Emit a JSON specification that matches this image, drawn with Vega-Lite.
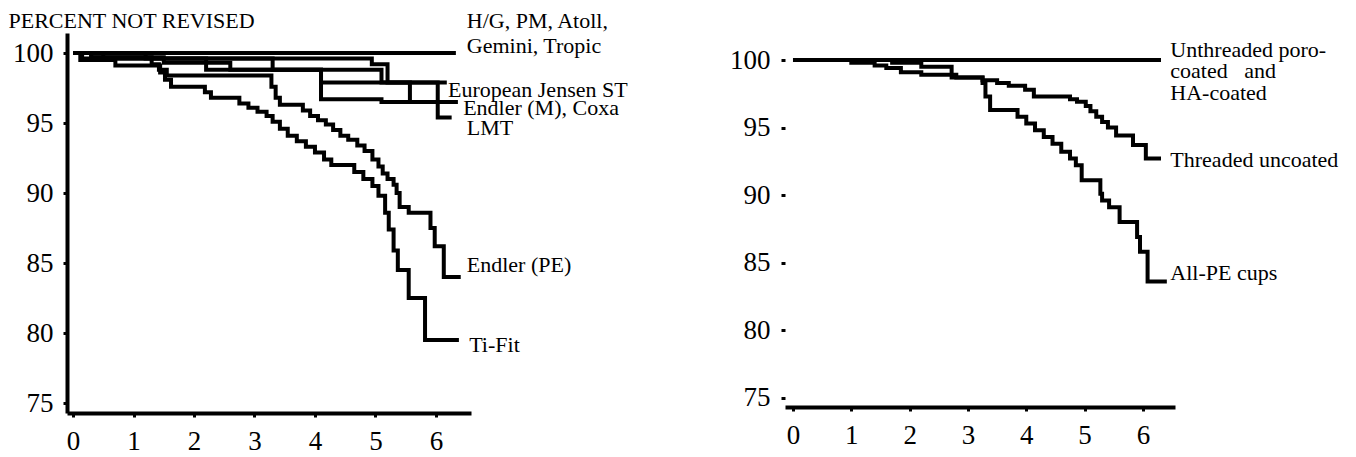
{
  "$schema": "https://vega.github.io/schema/vega-lite/v6.json",
  "autosize": {"type": "pad"},
  "padding": {"left": 8, "top": 9, "right": 0, "bottom": 0},
  "background": "white",
  "bounds": "flush",
  "spacing": 314,
  "config": {
    "view": {"stroke": null},
    "font": "Times New Roman, Liberation Serif, serif",
    "axis": {
      "domainColor": "black",
      "domainWidth": 4,
      "tickColor": "black",
      "tickSize": 4,
      "tickWidth": 3,
      "grid": false,
      "format": "d",
      "labelFont": "Times New Roman, Liberation Serif, serif",
      "labelFontSize": 27,
      "labelColor": "black",
      "titleFont": "Times New Roman, Liberation Serif, serif",
      "titleColor": "black",
      "titleFontWeight": "normal"
    }
  },
  "datasets": {
    "left": [
      {"s": "HG", "t": 0, "v": 100}, {"s": "HG", "t": 6.33, "v": 100},
      {"s": "EJ", "t": 0, "v": 100}, {"s": "EJ", "t": 0.5, "v": 99.6}, {"s": "EJ", "t": 2.2, "v": 98.8}, {"s": "EJ", "t": 4.1, "v": 97.9}, {"s": "EJ", "t": 6.18, "v": 97.9},
      {"s": "Coxa", "t": 0, "v": 100}, {"s": "Coxa", "t": 0.3, "v": 99.7}, {"s": "Coxa", "t": 1.5, "v": 99.3}, {"s": "Coxa", "t": 2.6, "v": 98.8}, {"s": "Coxa", "t": 4.1, "v": 96.7}, {"s": "Coxa", "t": 5.1, "v": 96.5}, {"s": "Coxa", "t": 6.36, "v": 96.5},
      {"s": "EndlerM", "t": 0, "v": 100}, {"s": "EndlerM", "t": 1.2, "v": 99.6}, {"s": "EndlerM", "t": 3.3, "v": 98.8}, {"s": "EndlerM", "t": 5.1, "v": 97.9}, {"s": "EndlerM", "t": 5.57, "v": 96.5}, {"s": "EndlerM", "t": 6.36, "v": 96.5},
      {"s": "LMT", "t": 0, "v": 100}, {"s": "LMT", "t": 0.15, "v": 99.6}, {"s": "LMT", "t": 4.94, "v": 99.2}, {"s": "LMT", "t": 5.2, "v": 97.9}, {"s": "LMT", "t": 6.03, "v": 95.4}, {"s": "LMT", "t": 6.26, "v": 95.4},
      {"s": "EndlerPE", "t": 0, "v": 100}, {"s": "EndlerPE", "t": 0.3, "v": 99.7}, {"s": "EndlerPE", "t": 1.3, "v": 99.2}, {"s": "EndlerPE", "t": 1.42, "v": 98.8}, {"s": "EndlerPE", "t": 1.55, "v": 98.4}, {"s": "EndlerPE", "t": 3.28, "v": 97.6}, {"s": "EndlerPE", "t": 3.35, "v": 96.8}, {"s": "EndlerPE", "t": 3.42, "v": 96.3}, {"s": "EndlerPE", "t": 3.8, "v": 95.9}, {"s": "EndlerPE", "t": 3.92, "v": 95.5}, {"s": "EndlerPE", "t": 4.05, "v": 95.2}, {"s": "EndlerPE", "t": 4.18, "v": 94.9}, {"s": "EndlerPE", "t": 4.3, "v": 94.5}, {"s": "EndlerPE", "t": 4.42, "v": 94.1}, {"s": "EndlerPE", "t": 4.55, "v": 93.8}, {"s": "EndlerPE", "t": 4.7, "v": 93.4}, {"s": "EndlerPE", "t": 4.82, "v": 93.0}, {"s": "EndlerPE", "t": 4.95, "v": 92.4}, {"s": "EndlerPE", "t": 5.05, "v": 91.9}, {"s": "EndlerPE", "t": 5.12, "v": 91.4}, {"s": "EndlerPE", "t": 5.2, "v": 91.0}, {"s": "EndlerPE", "t": 5.3, "v": 90.6}, {"s": "EndlerPE", "t": 5.35, "v": 90.0}, {"s": "EndlerPE", "t": 5.4, "v": 89.0}, {"s": "EndlerPE", "t": 5.55, "v": 88.6}, {"s": "EndlerPE", "t": 5.91, "v": 87.5}, {"s": "EndlerPE", "t": 5.98, "v": 86.2}, {"s": "EndlerPE", "t": 6.13, "v": 84.0}, {"s": "EndlerPE", "t": 6.41, "v": 84.0},
      {"s": "TiFit", "t": 0, "v": 100}, {"s": "TiFit", "t": 0.12, "v": 99.5}, {"s": "TiFit", "t": 0.7, "v": 99.1}, {"s": "TiFit", "t": 1.44, "v": 98.6}, {"s": "TiFit", "t": 1.52, "v": 98.1}, {"s": "TiFit", "t": 1.62, "v": 97.6}, {"s": "TiFit", "t": 2.18, "v": 97.2}, {"s": "TiFit", "t": 2.28, "v": 96.8}, {"s": "TiFit", "t": 2.75, "v": 96.4}, {"s": "TiFit", "t": 2.9, "v": 96.1}, {"s": "TiFit", "t": 3.05, "v": 95.8}, {"s": "TiFit", "t": 3.2, "v": 95.5}, {"s": "TiFit", "t": 3.3, "v": 95.1}, {"s": "TiFit", "t": 3.42, "v": 94.6}, {"s": "TiFit", "t": 3.55, "v": 94.1}, {"s": "TiFit", "t": 3.7, "v": 93.7}, {"s": "TiFit", "t": 3.85, "v": 93.3}, {"s": "TiFit", "t": 4.0, "v": 92.9}, {"s": "TiFit", "t": 4.15, "v": 92.4}, {"s": "TiFit", "t": 4.27, "v": 92.0}, {"s": "TiFit", "t": 4.65, "v": 91.5}, {"s": "TiFit", "t": 4.8, "v": 91.0}, {"s": "TiFit", "t": 4.95, "v": 90.5}, {"s": "TiFit", "t": 5.05, "v": 89.8}, {"s": "TiFit", "t": 5.16, "v": 88.6}, {"s": "TiFit", "t": 5.22, "v": 87.4}, {"s": "TiFit", "t": 5.3, "v": 85.9}, {"s": "TiFit", "t": 5.37, "v": 84.5}, {"s": "TiFit", "t": 5.55, "v": 82.5}, {"s": "TiFit", "t": 5.82, "v": 79.5}, {"s": "TiFit", "t": 6.38, "v": 79.5}
    ],
    "leftLabels": [
      {"label": "H/G, PM, Atoll,", "t": 6.51, "v": 101.79},
      {"label": "Gemini, Tropic", "t": 6.51, "v": 100.0},
      {"label": "European Jensen ST", "t": 6.2, "v": 96.86},
      {"label": "Endler (M), Coxa", "t": 6.45, "v": 95.57},
      {"label": "LMT", "t": 6.51, "v": 94.14},
      {"label": "Endler (PE)", "t": 6.51, "v": 84.36},
      {"label": "Ti-Fit", "t": 6.55, "v": 78.64}
    ],
    "right": [
      {"s": "Unthreaded", "t": 0, "v": 100}, {"s": "Unthreaded", "t": 6.31, "v": 100},
      {"s": "Threaded", "t": 0, "v": 100}, {"s": "Threaded", "t": 1.0, "v": 99.8}, {"s": "Threaded", "t": 1.4, "v": 99.6}, {"s": "Threaded", "t": 1.6, "v": 99.4}, {"s": "Threaded", "t": 1.85, "v": 99.1}, {"s": "Threaded", "t": 2.2, "v": 98.9}, {"s": "Threaded", "t": 2.8, "v": 98.7}, {"s": "Threaded", "t": 3.25, "v": 98.5}, {"s": "Threaded", "t": 3.5, "v": 98.3}, {"s": "Threaded", "t": 3.7, "v": 98.1}, {"s": "Threaded", "t": 3.98, "v": 97.8}, {"s": "Threaded", "t": 4.13, "v": 97.3}, {"s": "Threaded", "t": 4.75, "v": 97.1}, {"s": "Threaded", "t": 4.87, "v": 96.9}, {"s": "Threaded", "t": 5.02, "v": 96.6}, {"s": "Threaded", "t": 5.1, "v": 96.2}, {"s": "Threaded", "t": 5.2, "v": 95.8}, {"s": "Threaded", "t": 5.3, "v": 95.4}, {"s": "Threaded", "t": 5.4, "v": 95.0}, {"s": "Threaded", "t": 5.54, "v": 94.4}, {"s": "Threaded", "t": 5.83, "v": 93.7}, {"s": "Threaded", "t": 6.05, "v": 92.7}, {"s": "Threaded", "t": 6.31, "v": 92.7},
      {"s": "AllPE", "t": 0, "v": 100}, {"s": "AllPE", "t": 1.7, "v": 99.8}, {"s": "AllPE", "t": 2.2, "v": 99.5}, {"s": "AllPE", "t": 2.72, "v": 98.7}, {"s": "AllPE", "t": 3.25, "v": 98.3}, {"s": "AllPE", "t": 3.3, "v": 97.3}, {"s": "AllPE", "t": 3.38, "v": 96.3}, {"s": "AllPE", "t": 3.85, "v": 95.8}, {"s": "AllPE", "t": 4.0, "v": 95.3}, {"s": "AllPE", "t": 4.15, "v": 94.8}, {"s": "AllPE", "t": 4.3, "v": 94.3}, {"s": "AllPE", "t": 4.45, "v": 93.8}, {"s": "AllPE", "t": 4.6, "v": 93.2}, {"s": "AllPE", "t": 4.75, "v": 92.7}, {"s": "AllPE", "t": 4.85, "v": 92.2}, {"s": "AllPE", "t": 4.95, "v": 91.1}, {"s": "AllPE", "t": 5.27, "v": 90.1}, {"s": "AllPE", "t": 5.3, "v": 89.6}, {"s": "AllPE", "t": 5.42, "v": 89.1}, {"s": "AllPE", "t": 5.6, "v": 88.0}, {"s": "AllPE", "t": 5.9, "v": 86.9}, {"s": "AllPE", "t": 5.95, "v": 85.8}, {"s": "AllPE", "t": 6.08, "v": 83.6}, {"s": "AllPE", "t": 6.41, "v": 83.6}
    ],
    "rightLabels": [
      {"label": "Unthreaded poro-", "t": 6.47, "v": 100.22},
      {"label": "coated\u00a0\u00a0 and", "t": 6.47, "v": 98.64},
      {"label": "HA-coated", "t": 6.47, "v": 97.04},
      {"label": "Threaded uncoated", "t": 6.47, "v": 92.1},
      {"label": "All-PE cups", "t": 6.47, "v": 83.7}
    ]
  },
  "hconcat": [
    {
      "width": 404,
      "height": 380,
      "layer": [
        {
          "data": {"name": "left"},
          "mark": {"type": "line", "interpolate": "step-after", "strokeWidth": 4, "color": "black"},
          "encoding": {
            "x": {"field": "t", "type": "quantitative",
                  "scale": {"domain": [-0.1, 6.58], "nice": false, "zero": false},
                  "axis": {"values": [0, 1, 2, 3, 4, 5, 6], "title": null, "labelPadding": 11}},
            "y": {"field": "v", "type": "quantitative",
                  "scale": {"domain": [74.29, 101.43], "nice": false, "zero": false},
                  "axis": {"values": [75, 80, 85, 90, 95, 100], "labelPadding": 10,
                           "title": "PERCENT NOT REVISED", "titleAngle": 0, "titleAlign": "left",
                           "titleBaseline": "alphabetic", "titleX": -59, "titleY": -6, "titleFontSize": 22}},
            "detail": {"field": "s"}
          }
        },
        {
          "data": {"name": "leftLabels"},
          "mark": {"type": "text", "align": "left", "baseline": "alphabetic", "fontSize": 22, "font": "Times New Roman, Liberation Serif, serif", "color": "black"},
          "encoding": {
            "x": {"field": "t", "type": "quantitative"},
            "y": {"field": "v", "type": "quantitative"},
            "text": {"field": "label"}
          }
        }
      ]
    },
    {
      "width": 390,
      "height": 374,
      "layer": [
        {
          "data": {"name": "right"},
          "mark": {"type": "line", "interpolate": "step-after", "strokeWidth": 4, "color": "black"},
          "encoding": {
            "x": {"field": "t", "type": "quantitative",
                  "scale": {"domain": [-0.137, 6.55], "nice": false, "zero": false},
                  "axis": {"values": [0, 1, 2, 3, 4, 5, 6], "title": null, "labelPadding": 11}},
            "y": {"field": "v", "type": "quantitative",
                  "scale": {"domain": [74.3, 102.0], "nice": false, "zero": false},
                  "axis": {"values": [75, 80, 85, 90, 95, 100], "labelPadding": 11, "title": null, "domain": false}},
            "detail": {"field": "s"}
          }
        },
        {
          "mark": {"type": "rule", "strokeWidth": 4, "color": "black"},
          "encoding": {
            "x": {"datum": -0.137, "type": "quantitative"},
            "y": {"datum": 74.3, "type": "quantitative"},
            "y2": {"datum": 100.74}
          }
        },
        {
          "data": {"name": "rightLabels"},
          "mark": {"type": "text", "align": "left", "baseline": "alphabetic", "fontSize": 22, "font": "Times New Roman, Liberation Serif, serif", "color": "black"},
          "encoding": {
            "x": {"field": "t", "type": "quantitative"},
            "y": {"field": "v", "type": "quantitative"},
            "text": {"field": "label"}
          }
        }
      ]
    }
  ]
}
